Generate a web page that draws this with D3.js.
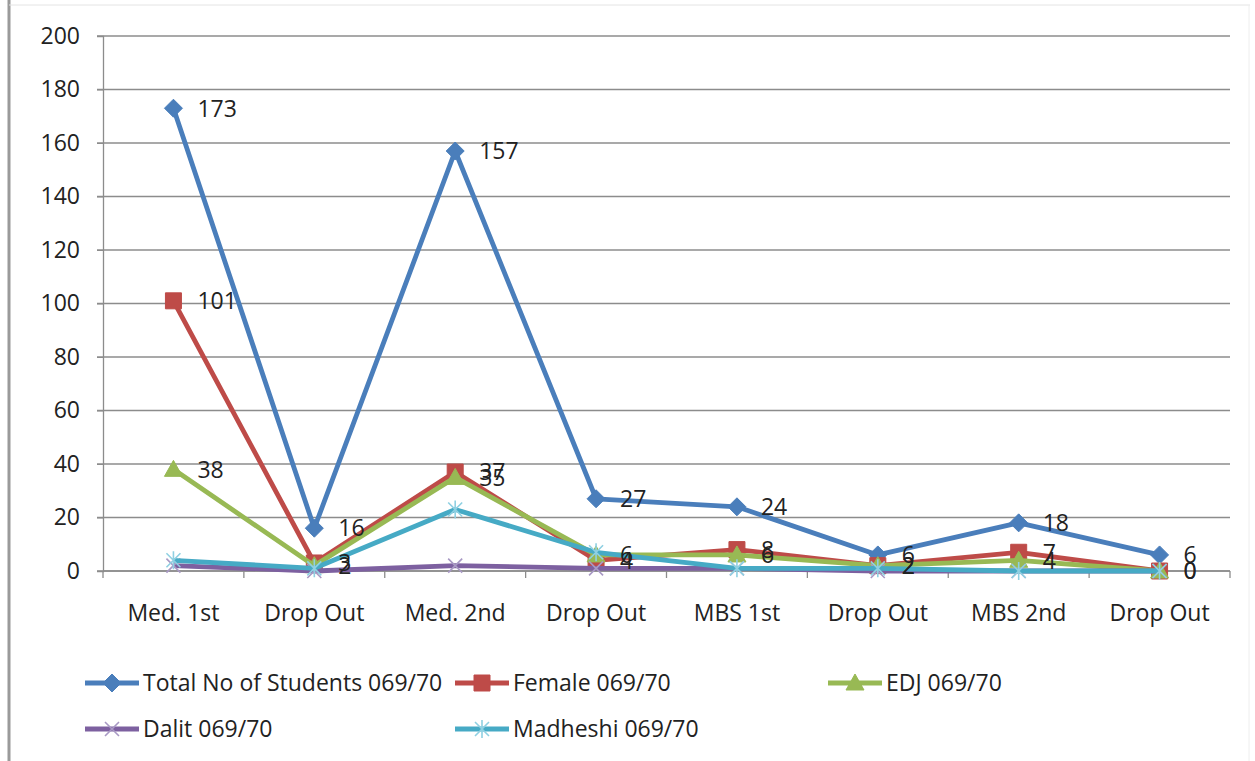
<!DOCTYPE html>
<html>
<head>
<meta charset="utf-8">
<script src="https://cdnjs.cloudflare.com/ajax/libs/d3/7.8.5/d3.min.js"></script>
<style>
body{margin:0;background:#fff;}
text{font-family:"Open Sans",Lato,sans-serif;fill:#222;}
</style>
</head>
<body>
<div id="chart"></div>
<script>
var categories = ["Med. 1st","Drop Out","Med. 2nd","Drop Out","MBS 1st","Drop Out","MBS 2nd","Drop Out"]
var yTicks = [0,20,40,60,80,100,120,140,160,180,200]

var totalStudents = [173,16,157,27,24,6,18,6]
var female = [101,3,37,4,8,2,7,0]
var edj = [38,2,35,6,6,2,4,0]
var dalit = [2,0,2,1,1,0,0,0]
var madheshi = [4,1,23,7,1,1,0,0]

var seriesNames = ["Total No of Students 069/70","Female 069/70","EDJ 069/70","Dalit 069/70","Madheshi 069/70"]
var seriesColors = ["#4a7ebb","#be4b48","#98b954","#7d60a0","#46aac5"]
var markerColors = ["#4a7ebb","#be4b48","#98b954","#a899c4","#8fd0e2"]
var markerTypes = ["diamond","square","triangle","x","star"]
var showLabels = [true,true,true,false,false]

var series = []
var allValues = [totalStudents,female,edj,dalit,madheshi]
for(var s in allValues){
	series.push({name:seriesNames[s],values:allValues[s],color:seriesColors[s],mcolor:markerColors[s],marker:markerTypes[s],label:showLabels[s]})
}

var W = 1255, H = 761
var plot = {left:103,right:1230,top:36,bottom:571}
var fontSize = "23px"

var svg = d3.select("#chart").append("svg")
	.attr("width",W).attr("height",H)

// outer frame of the screenshot
svg.append("line").attr("x1",9).attr("x2",9).attr("y1",0).attr("y2",H)
	.attr("stroke","#9a9a9a").attr("stroke-width",3)
svg.append("line").attr("x1",9).attr("x2",1250).attr("y1",5).attr("y2",5)
	.attr("stroke","#e4e4e4").attr("stroke-width",1)
svg.append("line").attr("x1",1249).attr("x2",1249).attr("y1",5).attr("y2",H)
	.attr("stroke","#eeeeee").attr("stroke-width",1)

var x = d3.scaleBand().domain(d3.range(categories.length))
	.range([plot.left,plot.right])
var y = d3.scaleLinear().domain([0,200]).range([plot.bottom,plot.top])

// gridlines
svg.selectAll(".grid").data(yTicks).enter().append("line")
	.attr("class","grid")
	.attr("x1",plot.left-6).attr("x2",plot.right)
	.attr("y1",function(d){return y(d)}).attr("y2",function(d){return y(d)})
	.attr("stroke","#8c8c8c").attr("stroke-width",1.3)

// y axis
var yAxis = svg.append("g").attr("transform","translate("+plot.left+",0)")
	.call(d3.axisLeft(y).tickValues(yTicks).tickSize(6).tickPadding(17))
yAxis.select(".domain").attr("stroke","#8c8c8c").attr("stroke-width",1.3)
yAxis.selectAll("line").attr("stroke","#8c8c8c")
yAxis.selectAll("text").style("font-size",fontSize).attr("fill","#222")

// x axis, ticks between categories
var xAxis = svg.append("g").attr("transform","translate(0,"+plot.bottom+")")
xAxis.append("line").attr("x1",plot.left).attr("x2",plot.right)
	.attr("stroke","#8c8c8c").attr("stroke-width",1.3)
var bounds = d3.range(categories.length+1).map(function(i){return plot.left+i*x.step()})
xAxis.selectAll(".xt").data(bounds).enter().append("line")
	.attr("x1",function(d){return d}).attr("x2",function(d){return d})
	.attr("y1",0).attr("y2",7)
	.attr("stroke","#8c8c8c").attr("stroke-width",1.3)
xAxis.selectAll(".xl").data(categories).enter().append("text")
	.attr("x",function(d,i){return x(i)+x.bandwidth()/2})
	.attr("y",50)
	.attr("text-anchor","middle")
	.style("font-size",fontSize)
	.text(function(d){return d})

function markerPath(type){
	if(type=="diamond") return "M0,-9L9,0L0,9L-9,0Z"
	if(type=="square") return "M-8,-8H8V8H-8Z"
	if(type=="triangle") return "M0,-9L9,7H-9Z"
	if(type=="x") return "M-7,-7L7,7M-7,7L7,-7"
	return "M-7,-7L7,7M-7,7L7,-7M0,-9V9"
}
function drawMarker(g,type,color){
	var filled = (type=="diamond"||type=="square"||type=="triangle")
	g.append("path").attr("d",markerPath(type))
		.attr("fill",filled?color:"none")
		.attr("stroke",color)
		.attr("stroke-width",filled?1:1.6)
}

var line = d3.line()
	.x(function(d,i){return x(i)+x.bandwidth()/2})
	.y(function(d){return y(d)})

// series lines + markers
series.forEach(function(s){
	var g = svg.append("g")
	g.append("path").datum(s.values)
		.attr("d",line)
		.attr("fill","none")
		.attr("stroke",s.color)
		.attr("stroke-width",4.8)
		.attr("stroke-linejoin","round")
	s.values.forEach(function(v,i){
		var m = g.append("g").attr("transform","translate("+(x(i)+x.bandwidth()/2)+","+y(v)+")")
		drawMarker(m,s.marker,s.mcolor)
	})
})

// data labels
series.forEach(function(s){
	if(!s.label) return
	svg.selectAll(null).data(s.values).enter().append("text")
		.attr("x",function(d,i){return x(i)+x.bandwidth()/2+24})
		.attr("y",function(d){return y(d)})
		.attr("dy","0.36em")
		.style("font-size",fontSize)
		.text(function(d){return d})
})

// legend
var legendPos = [[85,683],[455,683],[828,683],[85,729],[455,729]]
series.forEach(function(s,i){
	var lg = svg.append("g").attr("transform","translate("+legendPos[i][0]+","+legendPos[i][1]+")")
	lg.append("line").attr("x1",0).attr("x2",54).attr("y1",0).attr("y2",0)
		.attr("stroke",s.color).attr("stroke-width",4.8)
	var m = lg.append("g").attr("transform","translate(27,0)")
	drawMarker(m,s.marker,s.mcolor)
	lg.append("text").attr("x",58).attr("y",0).attr("dy","0.36em")
		.style("font-size",fontSize)
		.text(s.name)
})
</script>
</body>
</html>
